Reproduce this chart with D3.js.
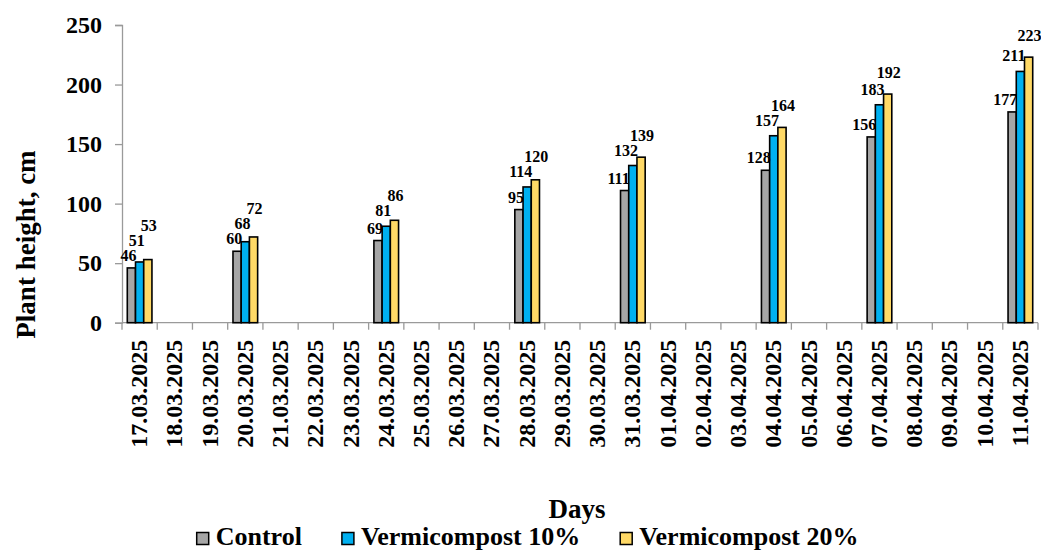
<!DOCTYPE html>
<html>
<head>
<meta charset="utf-8">
<script src="https://cdn.jsdelivr.net/npm/d3@7"></script>
<style>
  html, body { margin: 0; padding: 0; background: #fff; }
  svg text { font-family: "Liberation Serif", Tinos, "Times New Roman", Times, serif; font-weight: bold; }
</style>
</head>
<body>
<svg id="chart" width="1041" height="552"></svg>
<script>
// Observation days (every calendar day is a category; measurements on some of them)
const days = [
  "17.03.2025","18.03.2025","19.03.2025","20.03.2025","21.03.2025","22.03.2025",
  "23.03.2025","24.03.2025","25.03.2025","26.03.2025","27.03.2025","28.03.2025",
  "29.03.2025","30.03.2025","31.03.2025","01.04.2025","02.04.2025","03.04.2025",
  "04.04.2025","05.04.2025","06.04.2025","07.04.2025","08.04.2025","09.04.2025",
  "10.04.2025","11.04.2025"
];
const seriesNames = ["Control", "Vermicompost 10%", "Vermicompost 20%"];
// Plant height (cm) per day; null where no measurement was taken
const control = [46,null,null,60,null,null,null,69,null,null,null,95,null,null,111,null,null,null,128,null,null,156,null,null,null,177];
const vermi10 = [51,null,null,68,null,null,null,81,null,null,null,114,null,null,132,null,null,null,157,null,null,183,null,null,null,211];
const vermi20 = [53,null,null,72,null,null,null,86,null,null,null,120,null,null,139,null,null,null,164,null,null,192,null,null,null,223];
const yTicks = [0, 50, 100, 150, 200, 250];

const colors = ["#a6a6a6", "#00b0f0", "#ffd966"];
const seriesValues = [control, vermi10, vermi20];

const svg = d3.select("#chart");
const margin = { left: 122, right: 1038, top: 25, bottom: 322.7 };

const x0 = d3.scaleBand().domain(days).range([margin.left, margin.right]).padding(0);
const bw = x0.bandwidth();
const groupW = bw * 0.7;
const x1 = d3.scaleBand().domain(seriesNames).range([(bw - groupW) / 2, (bw + groupW) / 2]).padding(0);
const y = d3.scaleLinear().domain([0, 250]).range([margin.bottom, margin.top]);

const axisColor = "#9a9a9a";

// Y axis
const yAxis = svg.append("g")
  .attr("transform", `translate(${margin.left},0)`)
  .call(d3.axisLeft(y).tickValues(yTicks).tickSize(7).tickPadding(13));
yAxis.attr("font-family", null);
yAxis.select(".domain").attr("stroke", axisColor).attr("stroke-width", 1.3);
yAxis.selectAll(".tick line").attr("stroke", axisColor).attr("stroke-width", 1.3);
yAxis.selectAll(".tick text").attr("font-size", 24).attr("fill", "#000");

// X axis baseline with ticks at category boundaries
const xg = svg.append("g");
xg.append("line")
  .attr("x1", margin.left).attr("x2", margin.right)
  .attr("y1", y(0)).attr("y2", y(0))
  .attr("stroke", axisColor).attr("stroke-width", 1.3);
const boundaries = days.map(d => x0(d)).concat([x0.range()[1]]);
xg.selectAll("line.tk").data(boundaries).join("line")
  .attr("class", "tk")
  .attr("x1", d => d).attr("x2", d => d)
  .attr("y1", y(0)).attr("y2", y(0) + 7)
  .attr("stroke", axisColor).attr("stroke-width", 1.3);
xg.selectAll("text").data(days).join("text")
  .attr("transform", d => `translate(${x0(d) + bw / 2 + 7.5},${y(0) + 17}) rotate(-90)`)
  .attr("text-anchor", "end")
  .attr("font-size", 24)
  .attr("fill", "#000")
  .text(d => d);

// Bars
const flat = [];
days.forEach((d, i) => {
  seriesNames.forEach((s, k) => {
    const v = seriesValues[k][i];
    if (v != null) flat.push({ day: d, series: s, k, v });
  });
});

svg.append("g").selectAll("rect").data(flat).join("rect")
  .attr("x", d => x0(d.day) + x1(d.series))
  .attr("y", d => y(d.v))
  .attr("width", x1.bandwidth())
  .attr("height", d => y(0) - y(d.v))
  .attr("fill", d => colors[d.k])
  .attr("stroke", "#000")
  .attr("stroke-width", 1.6);

// Value labels: stacked upward within a group so neighbouring labels never collide
const labelGap = [7, 10, 16];
const stackStep = 15;
const lastBaseline = {};
flat.forEach(d => {
  let yy = y(d.v) - labelGap[d.k];
  if (d.k > 0) yy = Math.min(yy, lastBaseline[d.day] - stackStep);
  lastBaseline[d.day] = yy;
  d.ly = yy;
});

svg.append("g").selectAll("text").data(flat).join("text")
  .attr("x", d => {
    const left = x0(d.day) + x1(d.series);
    if (d.k === 2) return left + x1.bandwidth() / 2 + 1;
    return left + x1.bandwidth() + 1;
  })
  .attr("y", d => d.ly)
  .attr("text-anchor", d => d.k === 2 ? "middle" : "end")
  .attr("font-size", 16)
  .attr("fill", "#000")
  .text(d => d.v);

// Axis titles
svg.append("text")
  .attr("transform", `translate(35,244.5) rotate(-90)`)
  .attr("text-anchor", "middle")
  .attr("font-size", 27)
  .text("Plant height, cm");

svg.append("text")
  .attr("x", 577).attr("y", 518)
  .attr("text-anchor", "middle")
  .attr("font-size", 27)
  .text("Days");

// Legend: swatch + name, items laid out left to right
const lg = svg.append("g");
let lx = 196.7;
seriesNames.forEach((name, k) => {
  lg.append("rect")
    .attr("x", lx).attr("y", 532.5)
    .attr("width", 12).attr("height", 12)
    .attr("fill", colors[k]).attr("stroke", "#000").attr("stroke-width", 1.5);
  const t = lg.append("text")
    .attr("x", lx + 19).attr("y", 545)
    .attr("font-size", 26)
    .text(name);
  lx = lx + 19 + t.node().getComputedTextLength() + 40;
});
</script>
</body>
</html>
